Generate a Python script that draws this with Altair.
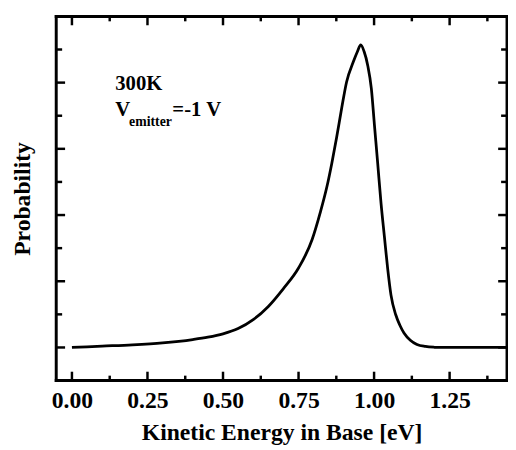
import altair as alt
import pandas as pd

# Curve data
energy = [0.0, 0.1, 0.2, 0.3, 0.4, 0.45, 0.5, 0.55, 0.6, 0.65, 0.7, 0.75,
          0.795, 0.822, 0.844, 0.86, 0.876, 0.893, 0.909, 0.931,
          0.945, 0.956, 0.967, 0.979, 0.991, 1.001, 1.012, 1.023, 1.034, 1.045,
          1.056, 1.072, 1.085, 1.099, 1.12, 1.142, 1.17, 1.2, 1.22, 1.3, 1.44]
prob = [0.0, 0.02, 0.04, 0.07, 0.12, 0.155, 0.205, 0.285, 0.42, 0.62, 0.89, 1.2,
        1.63, 2.04, 2.43, 2.78, 3.17, 3.62, 4.01, 4.31,
        4.47, 4.57, 4.47, 4.26, 3.91, 3.37, 2.78, 2.18, 1.68, 1.19,
        0.79, 0.49, 0.34, 0.22, 0.11, 0.045, 0.015, 0.003, 0.0, 0.0, 0.0]

x_major = [0.0, 0.25, 0.5, 0.75, 1.0, 1.25]
x_minor = [0.125, 0.375, 0.625, 0.875, 1.125, 1.375]
y_major = [0, 1, 2, 3, 4]
y_minor = [0.5, 1.5, 2.5, 3.5, 4.5]

X_DOMAIN = [-0.052, 1.44]
Y_DOMAIN = [-0.5, 5.0]
W, H = 458, 370
FONT = "Liberation Serif"

df = pd.DataFrame({"e": energy, "p": prob})
xs = alt.Scale(domain=X_DOMAIN, nice=False, zero=False)
ys = alt.Scale(domain=Y_DOMAIN, nice=False, zero=False)

line = alt.Chart(df).mark_line(color="black", strokeWidth=2.8,
                               interpolate="monotone").encode(
    x=alt.X("e:Q", scale=xs,
            axis=alt.Axis(values=x_major, format=".2f", ticks=False, domain=False,
                          grid=False, labelFont=FONT, labelFontWeight="bold",
                          labelFontSize=24, labelColor="black", labelPadding=8,
                          title="Kinetic Energy in Base [eV]", titleFont=FONT,
                          titleFontWeight="bold", titleFontSize=24,
                          titleColor="black", titlePadding=9)),
    y=alt.Y("p:Q", scale=ys,
            axis=alt.Axis(values=y_major, labels=False, ticks=False, domain=False,
                          grid=False, title="Probability", titleFont=FONT,
                          titleFontWeight="bold", titleFontSize=24,
                          titleColor="black", titlePadding=22)),
)

one = pd.DataFrame({"k": [0]})

def hrule(yv):
    return alt.Chart(one).mark_rule(color="black", strokeWidth=3,
                                    strokeCap="square").encode(
        x=alt.value(0), x2=alt.value(W), y=alt.value(yv))

def vrule(xv):
    return alt.Chart(one).mark_rule(color="black", strokeWidth=3,
                                    strokeCap="square").encode(
        y=alt.value(0), y2=alt.value(H), x=alt.value(xv))

frame = [hrule(0), hrule(H), vrule(0), vrule(W)]

def xticks(vals, length, top):
    d = pd.DataFrame({"v": vals})
    if top:
        y1, y2 = 0, length
    else:
        y1, y2 = H, H - length
    return alt.Chart(d).mark_rule(color="black", strokeWidth=2.5).encode(
        x=alt.X("v:Q", scale=xs), y=alt.value(y1), y2=alt.value(y2))

def yticks(vals, length, right):
    d = pd.DataFrame({"v": vals})
    if right:
        x1, x2 = W, W - length
    else:
        x1, x2 = 0, length
    return alt.Chart(d).mark_rule(color="black", strokeWidth=2.5).encode(
        y=alt.Y("v:Q", scale=ys), x=alt.value(x1), x2=alt.value(x2))

ticks = [
    xticks(x_major, 9, False), xticks(x_minor, 5, False),
    xticks(x_major, 9, True), xticks(x_minor, 5, True),
    yticks(y_major, 9, False), yticks(y_minor, 6, False),
    yticks(y_major, 9, True), yticks(y_minor, 6, True),
]

def label(txt, x, y, size):
    return alt.Chart(pd.DataFrame({"t": [txt]})).mark_text(
        font=FONT, fontWeight="bold", fontSize=size, color="black",
        align="left", baseline="alphabetic").encode(
        text="t:N", x=alt.value(x), y=alt.value(y))

texts = [
    label("300K", 60, 75, 21),
    label("V", 60, 101, 21),
    label("emitter", 74, 111, 14),
    label("=-1 V", 118, 101, 21),
]

chart = alt.layer(line, *frame, *ticks, *texts).properties(
    width=W, height=H, autosize="none",
    padding={"left": 49, "top": 5, "right": 1, "bottom": 67},
).configure(background="white").configure_view(stroke=None)

chart.save("out.html", embed_options={"renderer": "svg", "actions": False})
